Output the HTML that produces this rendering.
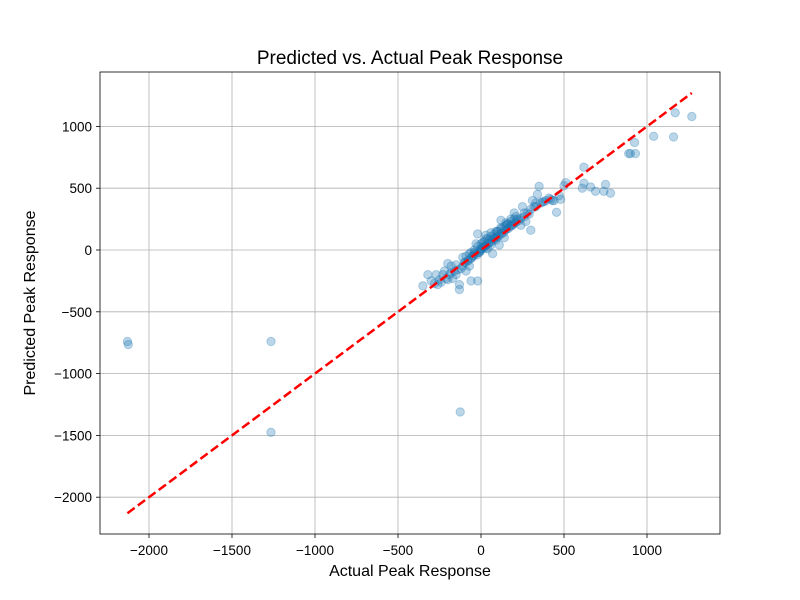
<!DOCTYPE html>
<html><head><meta charset="utf-8"><style>
body{margin:0;background:#fff}
svg{display:block;font-family:"Liberation Sans","DejaVu Sans",sans-serif}
</style></head><body>
<svg id="chart" width="800" height="600" xmlns="http://www.w3.org/2000/svg">
<rect width="800" height="600" fill="#fff"/>
<g id="grid"></g>
<g id="marks"></g>
<rect x="100" y="72" width="620" height="462" fill="none" stroke="#000" stroke-width="0.8"/>
<g id="ticks"></g>
<text x="410" y="64" text-anchor="middle" font-size="19">Predicted vs. Actual Peak Response</text>
<text x="410" y="576" text-anchor="middle" font-size="16">Actual Peak Response</text>
<text transform="translate(35,303) rotate(-90)" text-anchor="middle" font-size="16">Predicted Peak Response</text>
</svg>
<script>
const xTicks=[-2000,-1500,-1000,-500,0,500,1000];
const yTicks=[-2000,-1500,-1000,-500,0,500,1000];
const actual=[-2130,-2125,-1265,-1265,-125,1270,1170,1160,1040,925,930,900,890,780,750,740,690,660,620,620,610,510,500,480,455,440,410,380,350,340,330,310,300,300,290,
-350,-320,-300,-280,-270,-250,-200,-200,-180,-150,-130,-130,-60,-20,-100,-80,-50,-30,-20,-10,0,20,50,80,100,120,150,180,200,-40,10,30,60,90,110,140,160,190,220,250,270,-120,-90,-70,-150,-170,-230,-60,-25,40,70,
-140,-110,-95,-75,-55,-45,-35,-15,-5,5,15,25,35,45,55,65,75,85,95,105,115,125,135,145,155,165,175,185,195,205,215,230,240,260,280,320,360,390,420,470,-210,-190,-160,-260,-240,-5,12,28,
-90,-70,-40,-20,0,20,40,60,80,100,120,140,160,180,200,120,60,-60,-110,-180,-220,30,90,150,210,260,330,370,430,240];
const predicted=[-740,-765,-740,-1475,-1310,1080,1110,915,920,870,780,780,780,460,530,475,475,510,670,540,500,545,520,410,305,400,420,390,515,450,380,400,330,160,290,
-290,-200,-250,-270,-200,-240,-110,-240,-180,-200,-320,-280,-250,-250,-100,-90,-50,50,130,-20,0,30,80,100,150,180,220,250,300,-20,60,120,40,80,40,100,210,200,250,350,230,-150,-170,-130,-120,-230,-200,-70,-40,10,-30,
-160,-130,-100,-80,-60,-45,-30,-20,-10,10,20,30,45,55,60,70,90,95,105,110,125,135,140,160,170,175,190,200,210,220,230,240,255,270,300,350,380,400,410,440,-230,-200,-170,-280,-260,5,25,15,
-50,-30,0,30,50,70,90,110,130,150,170,190,210,230,250,240,140,-20,-60,-130,-170,90,150,200,270,300,350,390,400,200];
const X=v=>481+v*0.166, Y=v=>250-v*0.1236;
const ns="http://www.w3.org/2000/svg";
const mk=(t,a,p)=>{const e=document.createElementNS(ns,t);for(const k in a)e.setAttribute(k,a[k]);p.appendChild(e);return e;};
const grid=document.getElementById('grid'),ticks=document.getElementById('ticks'),marks=document.getElementById('marks');
xTicks.forEach(v=>{
 const l=mk('line',{x1:X(v),x2:X(v),y1:72,y2:534,stroke:'#b0b0b0','stroke-width':0.8},grid);
 
 
 mk('line',{x1:X(v),x2:X(v),y1:534,y2:538,stroke:'#000','stroke-width':0.8},ticks);
 const t=mk('text',{x:X(v),y:555,'text-anchor':'middle','font-size':13.5},ticks);t.textContent=(v<0?'\u2212':'')+Math.abs(v);
 
 
});
yTicks.forEach(v=>{
 const l=mk('line',{x1:100,x2:720,y1:Y(v),y2:Y(v),stroke:'#b0b0b0','stroke-width':0.8},grid);
 
 
 mk('line',{x1:96,x2:100,y1:Y(v),y2:Y(v),stroke:'#000','stroke-width':0.8},ticks);
 const t=mk('text',{x:92,y:Y(v)+5,'text-anchor':'end','font-size':13.5},ticks);t.textContent=(v<0?'\u2212':'')+Math.abs(v);
 
 
});
actual.forEach((a,i)=>{
 const c=mk('circle',{cx:X(a),cy:Y(predicted[i]),r:4.2,fill:'#1f77b4','fill-opacity':0.3,stroke:'#1f77b4','stroke-opacity':0.3},marks);
 
 
});
const mn=Math.min(...actual),mx=Math.max(...actual);
const ln=mk('line',{x1:X(mn),y1:Y(mn),x2:X(mx),y2:Y(mx),stroke:'#ff0000','stroke-width':2.5,'stroke-dasharray':'9,4'},marks);


</script>
</body></html>
